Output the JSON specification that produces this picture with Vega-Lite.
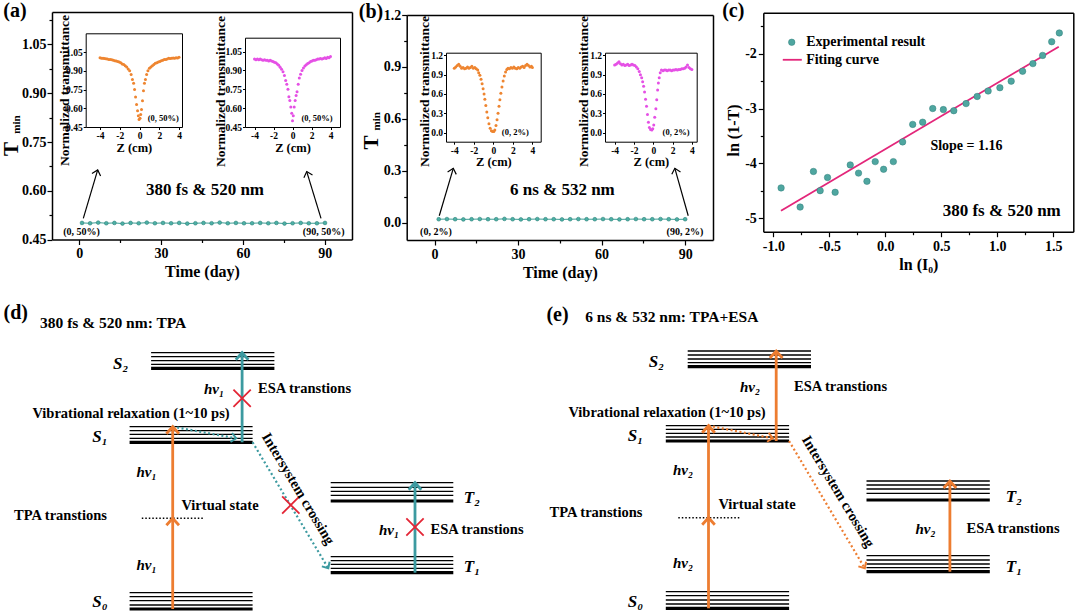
{
"$schema":"https://vega.github.io/schema/vega-lite/v6.json",
"width":1080,"height":612,"autosize":{"type":"none"},"padding":0,"background":"white",
"config":{
 "view":{"stroke":null},
 "font":"Liberation Serif",
 "axis":{"grid":false,"domainColor":"black","tickColor":"black","labelColor":"black","titleColor":"black","labelFont":"Liberation Serif","titleFont":"Liberation Serif","labelFontWeight":"bold","titleFontWeight":"bold","labelFlush":false,"labelOverlap":false,"domainWidth":1.5,"tickWidth":1.2},
 "text":{"font":"Liberation Serif","fontWeight":"bold","fill":"black","align":"center","baseline":"middle"}
},
"datasets":{
 "tA":[{"day":1,"T":0.501},{"day":3.97,"T":0.5},{"day":6.94,"T":0.502},{"day":9.91,"T":0.5},{"day":12.88,"T":0.501},{"day":15.85,"T":0.499},{"day":18.82,"T":0.501},{"day":21.79,"T":0.5},{"day":24.76,"T":0.502},{"day":27.73,"T":0.5},{"day":30.7,"T":0.501},{"day":33.67,"T":0.5},{"day":36.64,"T":0.501},{"day":39.61,"T":0.499},{"day":42.58,"T":0.5},{"day":45.55,"T":0.501},{"day":48.52,"T":0.5},{"day":51.49,"T":0.502},{"day":54.46,"T":0.5},{"day":57.43,"T":0.501},{"day":60.4,"T":0.5},{"day":63.37,"T":0.5},{"day":66.34,"T":0.501},{"day":69.31,"T":0.5},{"day":72.28,"T":0.501},{"day":75.25,"T":0.499},{"day":78.22,"T":0.5},{"day":81.19,"T":0.501},{"day":84.16,"T":0.5},{"day":87.13,"T":0.5},{"day":90.1,"T":0.501}],
 "tB":[{"day":1.5,"T":0.02},{"day":4.45,"T":0.021},{"day":7.4,"T":0.02},{"day":10.35,"T":0.019},{"day":13.3,"T":0.02},{"day":16.25,"T":0.021},{"day":19.2,"T":0.02},{"day":22.15,"T":0.02},{"day":25.1,"T":0.022},{"day":28.05,"T":0.02},{"day":31,"T":0.019},{"day":33.95,"T":0.02},{"day":36.9,"T":0.021},{"day":39.85,"T":0.02},{"day":42.8,"T":0.02},{"day":45.75,"T":0.019},{"day":48.7,"T":0.02},{"day":51.65,"T":0.021},{"day":54.6,"T":0.02},{"day":57.55,"T":0.02},{"day":60.5,"T":0.021},{"day":63.45,"T":0.02},{"day":66.4,"T":0.019},{"day":69.35,"T":0.02},{"day":72.3,"T":0.021},{"day":75.25,"T":0.02},{"day":78.2,"T":0.02},{"day":81.15,"T":0.021},{"day":84.1,"T":0.02},{"day":87.05,"T":0.019},{"day":90,"T":0.02}],
 "a1":[{"z":-4.0,"T":1.005},{"z":-3.85,"T":1.0},{"z":-3.7,"T":1.0},{"z":-3.55,"T":0.998},{"z":-3.4,"T":0.997},{"z":-3.25,"T":0.995},{"z":-3.1,"T":0.99},{"z":-2.95,"T":0.99},{"z":-2.8,"T":0.988},{"z":-2.65,"T":0.985},{"z":-2.5,"T":0.98},{"z":-2.35,"T":0.978},{"z":-2.2,"T":0.975},{"z":-2.05,"T":0.97},{"z":-1.9,"T":0.965},{"z":-1.75,"T":0.955},{"z":-1.6,"T":0.95},{"z":-1.45,"T":0.94},{"z":-1.3,"T":0.93},{"z":-1.15,"T":0.915},{"z":-1.0,"T":0.9},{"z":-0.85,"T":0.87},{"z":-0.72,"T":0.83},{"z":-0.6,"T":0.8},{"z":-0.5,"T":0.75},{"z":-0.4,"T":0.69},{"z":-0.3,"T":0.63},{"z":-0.2,"T":0.58},{"z":-0.12,"T":0.54},{"z":-0.05,"T":0.51},{"z":0.05,"T":0.52},{"z":0.12,"T":0.55},{"z":0.2,"T":0.59},{"z":0.3,"T":0.66},{"z":0.4,"T":0.74},{"z":0.5,"T":0.8},{"z":0.6,"T":0.83},{"z":0.72,"T":0.87},{"z":0.85,"T":0.9},{"z":1.0,"T":0.92},{"z":1.15,"T":0.93},{"z":1.3,"T":0.94},{"z":1.45,"T":0.95},{"z":1.6,"T":0.96},{"z":1.75,"T":0.965},{"z":1.9,"T":0.97},{"z":2.05,"T":0.975},{"z":2.2,"T":0.98},{"z":2.35,"T":0.985},{"z":2.5,"T":0.99},{"z":2.65,"T":0.99},{"z":2.8,"T":0.995},{"z":2.95,"T":1.0},{"z":3.1,"T":0.998},{"z":3.25,"T":1.0},{"z":3.4,"T":1.003},{"z":3.55,"T":1.0},{"z":3.7,"T":1.005},{"z":3.85,"T":1.003},{"z":4.0,"T":1.008}],
 "a2":[{"z":-4.0,"T":0.99},{"z":-3.85,"T":0.985},{"z":-3.7,"T":0.99},{"z":-3.55,"T":0.985},{"z":-3.4,"T":0.99},{"z":-3.25,"T":0.985},{"z":-3.1,"T":0.98},{"z":-2.95,"T":0.985},{"z":-2.8,"T":0.98},{"z":-2.65,"T":0.98},{"z":-2.5,"T":0.975},{"z":-2.35,"T":0.98},{"z":-2.2,"T":0.975},{"z":-2.05,"T":0.97},{"z":-1.9,"T":0.965},{"z":-1.75,"T":0.96},{"z":-1.6,"T":0.95},{"z":-1.45,"T":0.94},{"z":-1.3,"T":0.925},{"z":-1.15,"T":0.91},{"z":-1.0,"T":0.89},{"z":-0.85,"T":0.86},{"z":-0.72,"T":0.82},{"z":-0.6,"T":0.79},{"z":-0.48,"T":0.75},{"z":-0.38,"T":0.69},{"z":-0.28,"T":0.66},{"z":-0.18,"T":0.61},{"z":-0.08,"T":0.56},{"z":0.0,"T":0.5},{"z":0.08,"T":0.54},{"z":0.18,"T":0.61},{"z":0.28,"T":0.66},{"z":0.38,"T":0.7},{"z":0.48,"T":0.73},{"z":0.6,"T":0.79},{"z":0.72,"T":0.84},{"z":0.85,"T":0.87},{"z":1.0,"T":0.9},{"z":1.15,"T":0.92},{"z":1.3,"T":0.935},{"z":1.45,"T":0.945},{"z":1.6,"T":0.955},{"z":1.75,"T":0.96},{"z":1.9,"T":0.97},{"z":2.05,"T":0.975},{"z":2.2,"T":0.98},{"z":2.35,"T":0.98},{"z":2.5,"T":0.985},{"z":2.65,"T":0.99},{"z":2.8,"T":0.99},{"z":2.95,"T":0.995},{"z":3.1,"T":0.99},{"z":3.25,"T":0.995},{"z":3.4,"T":1.0},{"z":3.55,"T":0.995},{"z":3.7,"T":1.005},{"z":3.85,"T":1.0},{"z":4.0,"T":1.01}],
 "b1":[{"z":-4.0,"T":1.0},{"z":-3.85,"T":1.02},{"z":-3.7,"T":1.04},{"z":-3.55,"T":1.06},{"z":-3.4,"T":1.03},{"z":-3.25,"T":1.0},{"z":-3.1,"T":1.01},{"z":-2.95,"T":0.99},{"z":-2.8,"T":1.0},{"z":-2.65,"T":1.02},{"z":-2.5,"T":1.0},{"z":-2.35,"T":1.01},{"z":-2.2,"T":1.03},{"z":-2.05,"T":1.0},{"z":-1.9,"T":1.01},{"z":-1.75,"T":0.99},{"z":-1.6,"T":0.97},{"z":-1.5,"T":0.93},{"z":-1.38,"T":0.89},{"z":-1.26,"T":0.83},{"z":-1.15,"T":0.76},{"z":-1.05,"T":0.68},{"z":-0.95,"T":0.6},{"z":-0.87,"T":0.52},{"z":-0.77,"T":0.42},{"z":-0.67,"T":0.32},{"z":-0.57,"T":0.23},{"z":-0.45,"T":0.14},{"z":-0.33,"T":0.07},{"z":-0.2,"T":0.03},{"z":-0.08,"T":0.02},{"z":0.05,"T":0.02},{"z":0.15,"T":0.04},{"z":0.27,"T":0.11},{"z":0.38,"T":0.2},{"z":0.48,"T":0.3},{"z":0.58,"T":0.41},{"z":0.67,"T":0.51},{"z":0.77,"T":0.61},{"z":0.88,"T":0.71},{"z":1.0,"T":0.8},{"z":1.12,"T":0.88},{"z":1.25,"T":0.94},{"z":1.38,"T":0.98},{"z":1.5,"T":1.0},{"z":1.65,"T":0.99},{"z":1.8,"T":1.01},{"z":1.95,"T":1.0},{"z":2.1,"T":1.02},{"z":2.25,"T":1.0},{"z":2.4,"T":0.99},{"z":2.55,"T":1.01},{"z":2.7,"T":1.0},{"z":2.85,"T":1.02},{"z":3.0,"T":1.03},{"z":3.15,"T":1.01},{"z":3.3,"T":1.04},{"z":3.45,"T":1.06},{"z":3.6,"T":1.04},{"z":3.75,"T":1.02},{"z":3.9,"T":1.03},{"z":4.0,"T":1.01}],
 "b2":[{"z":-4.0,"T":1.05},{"z":-3.85,"T":1.06},{"z":-3.7,"T":1.08},{"z":-3.55,"T":1.1},{"z":-3.4,"T":1.07},{"z":-3.25,"T":1.05},{"z":-3.1,"T":1.06},{"z":-2.95,"T":1.04},{"z":-2.8,"T":1.05},{"z":-2.65,"T":1.06},{"z":-2.5,"T":1.04},{"z":-2.35,"T":1.05},{"z":-2.2,"T":1.06},{"z":-2.05,"T":1.05},{"z":-1.9,"T":1.04},{"z":-1.75,"T":1.02},{"z":-1.6,"T":0.99},{"z":-1.45,"T":0.95},{"z":-1.33,"T":0.9},{"z":-1.2,"T":0.85},{"z":-1.1,"T":0.79},{"z":-1.0,"T":0.72},{"z":-0.9,"T":0.63},{"z":-0.8,"T":0.52},{"z":-0.7,"T":0.41},{"z":-0.6,"T":0.28},{"z":-0.5,"T":0.16},{"z":-0.4,"T":0.08},{"z":-0.28,"T":0.05},{"z":-0.15,"T":0.04},{"z":-0.05,"T":0.06},{"z":0.05,"T":0.12},{"z":0.15,"T":0.24},{"z":0.27,"T":0.37},{"z":0.36,"T":0.51},{"z":0.45,"T":0.66},{"z":0.53,"T":0.77},{"z":0.62,"T":0.85},{"z":0.72,"T":0.93},{"z":0.85,"T":0.97},{"z":1.0,"T":0.96},{"z":1.15,"T":0.97},{"z":1.3,"T":0.97},{"z":1.45,"T":0.96},{"z":1.6,"T":0.97},{"z":1.75,"T":0.97},{"z":1.9,"T":0.96},{"z":2.05,"T":0.97},{"z":2.2,"T":0.97},{"z":2.35,"T":0.98},{"z":2.5,"T":0.97},{"z":2.65,"T":0.98},{"z":2.8,"T":0.98},{"z":2.95,"T":0.99},{"z":3.1,"T":0.99},{"z":3.25,"T":1.0},{"z":3.4,"T":1.02},{"z":3.55,"T":1.05},{"z":3.7,"T":1.01},{"z":3.85,"T":0.99},{"z":4.0,"T":0.98}],
 "cpts":[{"lnI":-0.931,"lnT":-4.45},{"lnI":-0.761,"lnT":-4.8},{"lnI":-0.642,"lnT":-4.15},{"lnI":-0.582,"lnT":-4.5},{"lnI":-0.516,"lnT":-4.26},{"lnI":-0.448,"lnT":-4.53},{"lnI":-0.313,"lnT":-4.03},{"lnI":-0.239,"lnT":-4.18},{"lnI":-0.164,"lnT":-4.33},{"lnI":-0.09,"lnT":-3.97},{"lnI":-0.015,"lnT":-4.11},{"lnI":0.072,"lnT":-3.97},{"lnI":0.155,"lnT":-3.61},{"lnI":0.245,"lnT":-3.29},{"lnI":0.334,"lnT":-3.25},{"lnI":0.424,"lnT":-3.0},{"lnI":0.519,"lnT":-3.02},{"lnI":0.612,"lnT":-3.04},{"lnI":0.722,"lnT":-2.91},{"lnI":0.821,"lnT":-2.78},{"lnI":0.919,"lnT":-2.68},{"lnI":1.024,"lnT":-2.62},{"lnI":1.125,"lnT":-2.5},{"lnI":1.227,"lnT":-2.32},{"lnI":1.319,"lnT":-2.18},{"lnI":1.406,"lnT":-2.03},{"lnI":1.487,"lnT":-1.78},{"lnI":1.555,"lnT":-1.62}],
 "cfit":[{"lnI":-0.932,"lnT":-4.866},{"lnI":1.55,"lnT":-1.871}],
 "levels":[
  {"dg":"d","lv":"S2","x1":15.11,"x2":27.44,"y":25.93,"w":"thin"},{"dg":"d","lv":"S2","x1":15.11,"x2":27.44,"y":25.53,"w":"thin"},{"dg":"d","lv":"S2","x1":15.11,"x2":27.44,"y":25.13,"w":"thin"},{"dg":"d","lv":"S2","x1":15.11,"x2":27.44,"y":24.77,"w":"thin"},{"dg":"d","lv":"S2","x1":15.11,"x2":27.44,"y":24.37,"w":"base"},
  {"dg":"d","lv":"S1","x1":12.96,"x2":25.26,"y":18.53,"w":"thin"},{"dg":"d","lv":"S1","x1":12.96,"x2":25.26,"y":18.13,"w":"thin"},{"dg":"d","lv":"S1","x1":12.96,"x2":25.26,"y":17.77,"w":"thin"},{"dg":"d","lv":"S1","x1":12.96,"x2":25.26,"y":17.37,"w":"thin"},{"dg":"d","lv":"S1","x1":12.96,"x2":25.26,"y":16.97,"w":"base"},
  {"dg":"d","lv":"S0","x1":12.96,"x2":25.26,"y":1.93,"w":"thin"},{"dg":"d","lv":"S0","x1":12.96,"x2":25.26,"y":1.53,"w":"thin"},{"dg":"d","lv":"S0","x1":12.96,"x2":25.26,"y":1.13,"w":"thin"},{"dg":"d","lv":"S0","x1":12.96,"x2":25.26,"y":0.7,"w":"thin"},{"dg":"d","lv":"S0","x1":12.96,"x2":25.26,"y":0.3,"w":"base"},
  {"dg":"d","lv":"T2","x1":33.07,"x2":45.33,"y":12.93,"w":"thin"},{"dg":"d","lv":"T2","x1":33.07,"x2":45.33,"y":12.47,"w":"thin"},{"dg":"d","lv":"T2","x1":33.07,"x2":45.33,"y":12.07,"w":"thin"},{"dg":"d","lv":"T2","x1":33.07,"x2":45.33,"y":11.67,"w":"thin"},{"dg":"d","lv":"T2","x1":33.07,"x2":45.33,"y":11.1,"w":"base"},
  {"dg":"d","lv":"T1","x1":33.07,"x2":45.33,"y":5.53,"w":"thin"},{"dg":"d","lv":"T1","x1":33.07,"x2":45.33,"y":5.13,"w":"thin"},{"dg":"d","lv":"T1","x1":33.07,"x2":45.33,"y":4.77,"w":"thin"},{"dg":"d","lv":"T1","x1":33.07,"x2":45.33,"y":4.37,"w":"thin"},{"dg":"d","lv":"T1","x1":33.07,"x2":45.33,"y":3.93,"w":"base"},
  {"dg":"e","lv":"S2","x1":68.77,"x2":81.1,"y":26.1,"w":"thin"},{"dg":"e","lv":"S2","x1":68.77,"x2":81.1,"y":25.7,"w":"thin"},{"dg":"e","lv":"S2","x1":68.77,"x2":81.1,"y":25.3,"w":"thin"},{"dg":"e","lv":"S2","x1":68.77,"x2":81.1,"y":24.93,"w":"thin"},{"dg":"e","lv":"S2","x1":68.77,"x2":81.1,"y":24.53,"w":"base"},
  {"dg":"e","lv":"S1","x1":66.58,"x2":78.91,"y":18.63,"w":"thin"},{"dg":"e","lv":"S1","x1":66.58,"x2":78.91,"y":18.27,"w":"thin"},{"dg":"e","lv":"S1","x1":66.58,"x2":78.91,"y":17.87,"w":"thin"},{"dg":"e","lv":"S1","x1":66.58,"x2":78.91,"y":17.5,"w":"thin"},{"dg":"e","lv":"S1","x1":66.58,"x2":78.91,"y":17.1,"w":"base"},
  {"dg":"e","lv":"S0","x1":66.58,"x2":78.91,"y":2.03,"w":"thin"},{"dg":"e","lv":"S0","x1":66.58,"x2":78.91,"y":1.63,"w":"thin"},{"dg":"e","lv":"S0","x1":66.58,"x2":78.91,"y":1.2,"w":"thin"},{"dg":"e","lv":"S0","x1":66.58,"x2":78.91,"y":0.8,"w":"thin"},{"dg":"e","lv":"S0","x1":66.58,"x2":78.91,"y":0.37,"w":"base"},
  {"dg":"e","lv":"T2","x1":86.65,"x2":98.98,"y":13.1,"w":"thin"},{"dg":"e","lv":"T2","x1":86.65,"x2":98.98,"y":12.7,"w":"thin"},{"dg":"e","lv":"T2","x1":86.65,"x2":98.98,"y":12.3,"w":"thin"},{"dg":"e","lv":"T2","x1":86.65,"x2":98.98,"y":11.87,"w":"thin"},{"dg":"e","lv":"T2","x1":86.65,"x2":98.98,"y":11.2,"w":"base"},
  {"dg":"e","lv":"T1","x1":86.65,"x2":98.98,"y":5.63,"w":"thin"},{"dg":"e","lv":"T1","x1":86.65,"x2":98.98,"y":5.2,"w":"thin"},{"dg":"e","lv":"T1","x1":86.65,"x2":98.98,"y":4.8,"w":"thin"},{"dg":"e","lv":"T1","x1":86.65,"x2":98.98,"y":4.43,"w":"thin"},{"dg":"e","lv":"T1","x1":86.65,"x2":98.98,"y":4.03,"w":"base"}
 ],
 "arrows":[
  {"dg":"d","beam":"tpa","ls":"solid","x1":17.27,"y1":0.3,"x2":17.27,"y2":9.37,"dir":0},
  {"dg":"d","beam":"tpa","ls":"solid","x1":17.27,"y1":9.37,"x2":17.27,"y2":18.53,"dir":0},
  {"dg":"d","beam":"esa","ls":"solid","x1":24.21,"y1":16.97,"x2":24.21,"y2":25.93,"dir":0},
  {"dg":"d","beam":"esa","ls":"solid","x1":41.5,"y1":3.93,"x2":41.5,"y2":12.93,"dir":0},
  {"dg":"d","beam":"vr","ls":"dotted","x1":17.27,"y1":18.53,"x2":23.62,"y2":17.37,"dir":100},
  {"dg":"d","beam":"isc","ls":"dotted","x1":25.26,"y1":16.97,"x2":32.83,"y2":4.37,"dir":149},
  {"dg":"e","beam":"tpa","ls":"solid","x1":70.85,"y1":0.37,"x2":70.85,"y2":9.43,"dir":0},
  {"dg":"e","beam":"tpa","ls":"solid","x1":70.85,"y1":9.43,"x2":70.85,"y2":18.63,"dir":0},
  {"dg":"e","beam":"esa","ls":"solid","x1":77.62,"y1":17.1,"x2":77.62,"y2":26.1,"dir":0},
  {"dg":"e","beam":"esa","ls":"solid","x1":94.99,"y1":4.03,"x2":94.99,"y2":13.1,"dir":0},
  {"dg":"e","beam":"vr","ls":"dotted","x1":70.85,"y1":18.63,"x2":77.28,"y2":17.37,"dir":101},
  {"dg":"e","beam":"isc","ls":"dotted","x1":78.91,"y1":17.1,"x2":86.48,"y2":4.37,"dir":149}
 ]
},
"layer":[
 {"resolve":{"axis":{"x":"independent","y":"independent"}},"layer":[
  {"data":{"name":"tA"},"mark":{"type":"line","color":"#3E9E95","strokeWidth":1},
   "encoding":{"x":{"field":"day","type":"quantitative","scale":{"domain":[-10,100],"range":[52,352],"nice":false,"zero":false},"axis":{"orient":"bottom","offset":-372.5,"values":[0,30,60,90],"format":"d","title":"Time (day)","labelFontSize":14,"titleFontSize":16,"tickSize":5,"labelPadding":2,"titlePadding":3}},
    "y":{"field":"T","type":"quantitative","scale":{"domain":[0.45,1.15],"range":[239.5,12],"nice":false,"zero":false},"axis":{"orient":"left","offset":-52,"values":[0.45,0.6,0.75,0.9,1.05],"format":".2f","title":null,"labelFontSize":14,"tickSize":5,"labelPadding":1}}}},
  {"data":{"name":"tA"},"mark":{"type":"point","filled":true,"size":14,"color":"#4DB0A6","stroke":"#2F837B","strokeWidth":0.6,"opacity":1},
   "encoding":{"x":{"field":"day","type":"quantitative","scale":{"domain":[-10,100],"range":[52,352],"nice":false,"zero":false},"axis":null},
    "y":{"field":"T","type":"quantitative","scale":{"domain":[0.45,1.15],"range":[239.5,12],"nice":false,"zero":false},"axis":null}}},
  {"data":{"values":[{"x1":1.48,"y1":0.515,"x2":6.76,"y2":0.664,"dir":16.6},{"x1":88.64,"y1":0.515,"x2":83.4,"y2":0.659,"dir":-17}]},
   "mark":{"type":"rule","color":"black","strokeWidth":1.2},
   "encoding":{"x":{"field":"x1","type":"quantitative","scale":{"domain":[-10,100],"range":[52,352],"nice":false,"zero":false},"axis":null},
    "y":{"field":"y1","type":"quantitative","scale":{"domain":[0.45,1.15],"range":[239.5,12],"nice":false,"zero":false},"axis":null},
    "x2":{"field":"x2"},"y2":{"field":"y2"}}},
  {"data":{"values":[{"x1":1.48,"y1":0.515,"x2":6.76,"y2":0.664,"dir":16.6},{"x1":88.64,"y1":0.515,"x2":83.4,"y2":0.659,"dir":-17}]},
   "mark":{"type":"point","shape":"M-0.9,1L0,0L0.9,1","filled":false,"size":100,"color":"black","strokeWidth":1.2,"opacity":1},
   "encoding":{"x":{"field":"x2","type":"quantitative","scale":{"domain":[-10,100],"range":[52,352],"nice":false,"zero":false},"axis":null},
    "y":{"field":"y2","type":"quantitative","scale":{"domain":[0.45,1.15],"range":[239.5,12],"nice":false,"zero":false},"axis":null},
    "angle":{"field":"dir","type":"quantitative","scale":null}}},
  {"data":{"values":[{"x":0.82,"y":0.473,"t":"(0, 50%)"},{"x":89.6,"y":0.473,"t":"(90, 50%)"}]},"mark":{"type":"text","fontSize":10},
   "encoding":{"x":{"field":"x","type":"quantitative","scale":{"domain":[-10,100],"range":[52,352],"nice":false,"zero":false},"axis":null},
    "y":{"field":"y","type":"quantitative","scale":{"domain":[0.45,1.15],"range":[239.5,12],"nice":false,"zero":false},"axis":null},"text":{"field":"t"}}},
  {"data":{"values":[{"x":46.1,"y":0.602,"t":"380 fs & 520 nm"}]},"mark":{"type":"text","fontSize":17},
   "encoding":{"x":{"field":"x","type":"quantitative","scale":{"domain":[-10,100],"range":[52,352],"nice":false,"zero":false},"axis":null},
    "y":{"field":"y","type":"quantitative","scale":{"domain":[0.45,1.15],"range":[239.5,12],"nice":false,"zero":false},"axis":null},"text":{"field":"t"}}}
 ]},
 {"data":{"name":"tA"},"mark":{"type":"point","opacity":0},
  "encoding":{"x":{"field":"day","type":"quantitative","scale":{"domain":[-10,100],"range":[52,352],"nice":false,"zero":false},"axis":{"orient":"bottom","offset":-372.5,"values":[15,45,75],"labels":false,"domain":false,"tickSize":3,"title":null}},
   "y":{"field":"T","type":"quantitative","scale":{"domain":[0.45,1.15],"range":[239.5,12],"nice":false,"zero":false},"axis":{"orient":"left","offset":-52,"values":[0.525,0.675,0.825,0.975,1.125],"labels":false,"domain":false,"tickSize":3,"title":null}}}},
 {"data":{"name":"tA"},"mark":{"type":"point","opacity":0},
  "encoding":{"x":{"field":"day","type":"quantitative","scale":{"domain":[-10,100],"range":[52,352],"nice":false,"zero":false},"axis":{"orient":"top","offset":-12,"ticks":false,"labels":false,"title":null}},
   "y":{"field":"T","type":"quantitative","scale":{"domain":[0.45,1.15],"range":[239.5,12],"nice":false,"zero":false},"axis":{"orient":"right","offset":-728,"ticks":false,"labels":false,"title":null}}}},
 {"resolve":{"axis":{"x":"independent","y":"independent"}},"layer":[
  {"data":{"name":"a1"},"mark":{"type":"point","filled":true,"size":9,"color":"#EE8530","opacity":1},
   "encoding":{"x":{"field":"z","type":"quantitative","scale":{"domain":[-5.45,4.3],"range":[85.7,182],"nice":false,"zero":false},"axis":{"orient":"bottom","offset":-485,"values":[-4,-2,0,2,4],"format":"d","labelExpr":"replace(datum.label,'−','-')","title":"Z (cm)","labelFontSize":9.5,"titleFontSize":12.5,"tickSize":2.5,"labelPadding":1,"titlePadding":1,"domainWidth":1,"tickWidth":1}},
    "y":{"field":"T","type":"quantitative","scale":{"domain":[0.45,1.2],"range":[127,33.3],"nice":false,"zero":false},"axis":{"orient":"left","offset":-85.7,"values":[0.45,0.6,0.75,0.9,1.05],"format":".2f","title":"Normalized transmittance","titleFontSize":13.5,"labelFontSize":9.5,"tickSize":2.5,"labelPadding":1,"titleX":-14.5,"titleY":90,"domainWidth":1,"tickWidth":1}}}},
  {"data":{"values":[{"x":2.41,"y":0.524,"t":"(0, 50%)"}]},"mark":{"type":"text","fontSize":8.5},
   "encoding":{"x":{"field":"x","type":"quantitative","scale":{"domain":[-5.45,4.3],"range":[85.7,182],"nice":false,"zero":false},"axis":null},
    "y":{"field":"y","type":"quantitative","scale":{"domain":[0.45,1.2],"range":[127,33.3],"nice":false,"zero":false},"axis":null},"text":{"field":"t"}}}
 ]},
 {"data":{"name":"a1"},"mark":{"type":"point","opacity":0},
  "encoding":{"x":{"field":"z","type":"quantitative","scale":{"domain":[-5.45,4.3],"range":[85.7,182],"nice":false,"zero":false},"axis":{"orient":"top","offset":-33.3,"ticks":false,"labels":false,"title":null,"domainWidth":1}},
   "y":{"field":"T","type":"quantitative","scale":{"domain":[0.45,1.2],"range":[127,33.3],"nice":false,"zero":false},"axis":{"orient":"right","offset":-898,"ticks":false,"labels":false,"title":null,"domainWidth":1}}}},
 {"resolve":{"axis":{"x":"independent","y":"independent"}},"layer":[
  {"data":{"name":"a2"},"mark":{"type":"point","filled":true,"size":9,"color":"#E550E5","opacity":1},
   "encoding":{"x":{"field":"z","type":"quantitative","scale":{"domain":[-5,5],"range":[245,340],"nice":false,"zero":false},"axis":{"orient":"bottom","offset":-485,"values":[-4,-2,0,2,4],"format":"d","labelExpr":"replace(datum.label,'−','-')","title":"Z (cm)","labelFontSize":9.5,"titleFontSize":12.5,"tickSize":2.5,"labelPadding":1,"titlePadding":1,"domainWidth":1,"tickWidth":1}},
    "y":{"field":"T","type":"quantitative","scale":{"domain":[0.45,1.16],"range":[127,37.7],"nice":false,"zero":false},"axis":{"orient":"left","offset":-245,"values":[0.45,0.6,0.75,0.9,1.05],"format":".2f","title":"Normalized transmittance","titleFontSize":13.5,"labelFontSize":9.5,"tickSize":2.5,"labelPadding":1,"titleX":-18,"titleY":91,"domainWidth":1,"tickWidth":1}}}},
  {"data":{"values":[{"x":2.58,"y":0.524,"t":"(0, 50%)"}]},"mark":{"type":"text","fontSize":8.5},
   "encoding":{"x":{"field":"x","type":"quantitative","scale":{"domain":[-5,5],"range":[245,340],"nice":false,"zero":false},"axis":null},
    "y":{"field":"y","type":"quantitative","scale":{"domain":[0.45,1.16],"range":[127,37.7],"nice":false,"zero":false},"axis":null},"text":{"field":"t"}}}
 ]},
 {"data":{"name":"a2"},"mark":{"type":"point","opacity":0},
  "encoding":{"x":{"field":"z","type":"quantitative","scale":{"domain":[-5,5],"range":[245,340],"nice":false,"zero":false},"axis":{"orient":"top","offset":-37.7,"ticks":false,"labels":false,"title":null,"domainWidth":1}},
   "y":{"field":"T","type":"quantitative","scale":{"domain":[0.45,1.16],"range":[127,37.7],"nice":false,"zero":false},"axis":{"orient":"right","offset":-740,"ticks":false,"labels":false,"title":null,"domainWidth":1}}}},
 {"resolve":{"axis":{"x":"independent","y":"independent"}},"layer":[
  {"data":{"name":"tB"},"mark":{"type":"line","color":"#3E9E95","strokeWidth":1},
   "encoding":{"x":{"field":"day","type":"quantitative","scale":{"domain":[-10,100],"range":[406.7,713],"nice":false,"zero":false},"axis":{"orient":"bottom","offset":-372,"values":[0,30,60,90],"format":"d","title":"Time (day)","labelFontSize":14,"titleFontSize":16,"tickSize":5,"labelPadding":2,"titlePadding":3}},
    "y":{"field":"T","type":"quantitative","scale":{"domain":[-0.1,1.2],"range":[240,15],"nice":false,"zero":false},"axis":{"orient":"left","offset":-406.7,"values":[0,0.3,0.6,0.9,1.2],"format":".1f","title":null,"labelFontSize":14,"tickSize":5,"labelPadding":1}}}},
  {"data":{"name":"tB"},"mark":{"type":"point","filled":true,"size":14,"color":"#4DB0A6","stroke":"#2F837B","strokeWidth":0.6,"opacity":1},
   "encoding":{"x":{"field":"day","type":"quantitative","scale":{"domain":[-10,100],"range":[406.7,713],"nice":false,"zero":false},"axis":null},
    "y":{"field":"T","type":"quantitative","scale":{"domain":[-0.1,1.2],"range":[240,15],"nice":false,"zero":false},"axis":null}}},
  {"data":{"values":[{"x1":1.7,"y1":0.04,"x2":6.73,"y2":0.314,"dir":15.6},{"x1":91.1,"y1":0.04,"x2":86.3,"y2":0.314,"dir":-15}]},
   "mark":{"type":"rule","color":"black","strokeWidth":1.2},
   "encoding":{"x":{"field":"x1","type":"quantitative","scale":{"domain":[-10,100],"range":[406.7,713],"nice":false,"zero":false},"axis":null},
    "y":{"field":"y1","type":"quantitative","scale":{"domain":[-0.1,1.2],"range":[240,15],"nice":false,"zero":false},"axis":null},
    "x2":{"field":"x2"},"y2":{"field":"y2"}}},
  {"data":{"values":[{"x1":1.7,"y1":0.04,"x2":6.73,"y2":0.314,"dir":15.6},{"x1":91.1,"y1":0.04,"x2":86.3,"y2":0.314,"dir":-15}]},
   "mark":{"type":"point","shape":"M-0.9,1L0,0L0.9,1","filled":false,"size":100,"color":"black","strokeWidth":1.2,"opacity":1},
   "encoding":{"x":{"field":"x2","type":"quantitative","scale":{"domain":[-10,100],"range":[406.7,713],"nice":false,"zero":false},"axis":null},
    "y":{"field":"y2","type":"quantitative","scale":{"domain":[-0.1,1.2],"range":[240,15],"nice":false,"zero":false},"axis":null},
    "angle":{"field":"dir","type":"quantitative","scale":null}}},
  {"data":{"values":[{"x":0.5,"y":-0.054,"t":"(0, 2%)"},{"x":89.9,"y":-0.054,"t":"(90, 2%)"}]},"mark":{"type":"text","fontSize":10},
   "encoding":{"x":{"field":"x","type":"quantitative","scale":{"domain":[-10,100],"range":[406.7,713],"nice":false,"zero":false},"axis":null},
    "y":{"field":"y","type":"quantitative","scale":{"domain":[-0.1,1.2],"range":[240,15],"nice":false,"zero":false},"axis":null},"text":{"field":"t"}}},
  {"data":{"values":[{"x":45.9,"y":0.189,"t":"6 ns & 532 nm"}]},"mark":{"type":"text","fontSize":17},
   "encoding":{"x":{"field":"x","type":"quantitative","scale":{"domain":[-10,100],"range":[406.7,713],"nice":false,"zero":false},"axis":null},
    "y":{"field":"y","type":"quantitative","scale":{"domain":[-0.1,1.2],"range":[240,15],"nice":false,"zero":false},"axis":null},"text":{"field":"t"}}}
 ]},
 {"data":{"name":"tB"},"mark":{"type":"point","opacity":0},
  "encoding":{"x":{"field":"day","type":"quantitative","scale":{"domain":[-10,100],"range":[406.7,713],"nice":false,"zero":false},"axis":{"orient":"bottom","offset":-372,"values":[15,45,75],"labels":false,"domain":false,"tickSize":3,"title":null}},
   "y":{"field":"T","type":"quantitative","scale":{"domain":[-0.1,1.2],"range":[240,15],"nice":false,"zero":false},"axis":{"orient":"left","offset":-406.7,"values":[0.15,0.45,0.75,1.05],"labels":false,"domain":false,"tickSize":3,"title":null}}}},
 {"data":{"name":"tB"},"mark":{"type":"point","opacity":0},
  "encoding":{"x":{"field":"day","type":"quantitative","scale":{"domain":[-10,100],"range":[406.7,713],"nice":false,"zero":false},"axis":{"orient":"top","offset":-15,"ticks":false,"labels":false,"title":null}},
   "y":{"field":"T","type":"quantitative","scale":{"domain":[-0.1,1.2],"range":[240,15],"nice":false,"zero":false},"axis":{"orient":"right","offset":-367,"ticks":false,"labels":false,"title":null}}}},
 {"resolve":{"axis":{"x":"independent","y":"independent"}},"layer":[
  {"data":{"name":"b1"},"mark":{"type":"point","filled":true,"size":9,"color":"#EE8530","opacity":1},
   "encoding":{"x":{"field":"z","type":"quantitative","scale":{"domain":[-4.85,4.85],"range":[446,540.7],"nice":false,"zero":false},"axis":{"orient":"bottom","offset":-470.3,"values":[-4,-2,0,2,4],"format":"d","labelExpr":"replace(datum.label,'−','-')","title":"Z (cm)","labelFontSize":9.5,"titleFontSize":12.5,"tickSize":2.5,"labelPadding":1,"titlePadding":1,"domainWidth":1,"tickWidth":1}},
    "y":{"field":"T","type":"quantitative","scale":{"domain":[-0.14,1.24],"range":[141.7,52.7],"nice":false,"zero":false},"axis":{"orient":"left","offset":-446,"values":[0,0.3,0.6,0.9,1.2],"format":".1f","title":"Normalized transmittance","titleFontSize":13.5,"labelFontSize":9.5,"tickSize":2.5,"labelPadding":1,"titleX":-15,"titleY":91,"domainWidth":1,"tickWidth":1}}}},
  {"data":{"values":[{"x":2.25,"y":0.015,"t":"(0, 2%)"}]},"mark":{"type":"text","fontSize":8.5},
   "encoding":{"x":{"field":"x","type":"quantitative","scale":{"domain":[-4.85,4.85],"range":[446,540.7],"nice":false,"zero":false},"axis":null},
    "y":{"field":"y","type":"quantitative","scale":{"domain":[-0.14,1.24],"range":[141.7,52.7],"nice":false,"zero":false},"axis":null},"text":{"field":"t"}}}
 ]},
 {"data":{"name":"b1"},"mark":{"type":"point","opacity":0},
  "encoding":{"x":{"field":"z","type":"quantitative","scale":{"domain":[-4.85,4.85],"range":[446,540.7],"nice":false,"zero":false},"axis":{"orient":"top","offset":-52.7,"ticks":false,"labels":false,"title":null,"domainWidth":1}},
   "y":{"field":"T","type":"quantitative","scale":{"domain":[-0.14,1.24],"range":[141.7,52.7],"nice":false,"zero":false},"axis":{"orient":"right","offset":-539.3,"ticks":false,"labels":false,"title":null,"domainWidth":1}}}},
 {"resolve":{"axis":{"x":"independent","y":"independent"}},"layer":[
  {"data":{"name":"b2"},"mark":{"type":"point","filled":true,"size":9,"color":"#E550E5","opacity":1},
   "encoding":{"x":{"field":"z","type":"quantitative","scale":{"domain":[-5,4.5],"range":[605,696.7],"nice":false,"zero":false},"axis":{"orient":"bottom","offset":-470.3,"values":[-4,-2,0,2,4],"format":"d","labelExpr":"replace(datum.label,'−','-')","title":"Z (cm)","labelFontSize":9.5,"titleFontSize":12.5,"tickSize":2.5,"labelPadding":1,"titlePadding":1,"domainWidth":1,"tickWidth":1}},
    "y":{"field":"T","type":"quantitative","scale":{"domain":[-0.14,1.24],"range":[141.7,52.7],"nice":false,"zero":false},"axis":{"orient":"left","offset":-605,"values":[0,0.3,0.6,0.9,1.2],"format":".1f","title":"Normalized transmittance","titleFontSize":13.5,"labelFontSize":9.5,"tickSize":2.5,"labelPadding":1,"titleX":-15,"titleY":91,"domainWidth":1,"tickWidth":1}}}},
  {"data":{"values":[{"x":2.36,"y":0.015,"t":"(0, 2%)"}]},"mark":{"type":"text","fontSize":8.5},
   "encoding":{"x":{"field":"x","type":"quantitative","scale":{"domain":[-5,4.5],"range":[605,696.7],"nice":false,"zero":false},"axis":null},
    "y":{"field":"y","type":"quantitative","scale":{"domain":[-0.14,1.24],"range":[141.7,52.7],"nice":false,"zero":false},"axis":null},"text":{"field":"t"}}}
 ]},
 {"data":{"name":"b2"},"mark":{"type":"point","opacity":0},
  "encoding":{"x":{"field":"z","type":"quantitative","scale":{"domain":[-5,4.5],"range":[605,696.7],"nice":false,"zero":false},"axis":{"orient":"top","offset":-52.7,"ticks":false,"labels":false,"title":null,"domainWidth":1}},
   "y":{"field":"T","type":"quantitative","scale":{"domain":[-0.14,1.24],"range":[141.7,52.7],"nice":false,"zero":false},"axis":{"orient":"right","offset":-383.3,"ticks":false,"labels":false,"title":null,"domainWidth":1}}}},
 {"resolve":{"axis":{"x":"independent","y":"independent"}},"layer":[
  {"data":{"name":"cfit"},"mark":{"type":"line","color":"#E3267A","strokeWidth":1.8},
   "encoding":{"x":{"field":"lnI","type":"quantitative","scale":{"domain":[-1.09,1.68],"range":[763.3,1073.3],"nice":false,"zero":false},"axis":{"orient":"bottom","offset":-380.3,"values":[-1,-0.5,0,0.5,1,1.5],"format":".1f","labelExpr":"replace(datum.label,'−','-')","title":"ln (I₀)","labelFontSize":14,"titleFontSize":16,"tickSize":5,"labelPadding":3,"titlePadding":3}},
    "y":{"field":"lnT","type":"quantitative","scale":{"domain":[-5.25,-1.25],"range":[231.7,12.7],"nice":false,"zero":false},"axis":{"orient":"left","offset":-763.3,"values":[-5,-4,-3,-2],"format":"d","labelExpr":"replace(datum.label,'−','-')","title":"ln (1-T)","labelFontSize":14,"titleFontSize":16,"tickSize":5,"labelPadding":2,"titleX":-22,"titleY":130}}}},
  {"data":{"name":"cpts"},"mark":{"type":"circle","size":42,"color":"#4FA6A0","stroke":"#2E7F7A","strokeWidth":0.5,"opacity":1},
   "encoding":{"x":{"field":"lnI","type":"quantitative","scale":{"domain":[-1.09,1.68],"range":[763.3,1073.3],"nice":false,"zero":false},"axis":null},
    "y":{"field":"lnT","type":"quantitative","scale":{"domain":[-5.25,-1.25],"range":[231.7,12.7],"nice":false,"zero":false},"axis":null}}},
  {"data":{"values":[{"x":-0.836,"y":-1.79}]},"mark":{"type":"circle","size":42,"color":"#4FA6A0","stroke":"#2E7F7A","strokeWidth":0.5,"opacity":1},
   "encoding":{"x":{"field":"x","type":"quantitative","scale":{"domain":[-1.09,1.68],"range":[763.3,1073.3],"nice":false,"zero":false},"axis":null},
    "y":{"field":"y","type":"quantitative","scale":{"domain":[-5.25,-1.25],"range":[231.7,12.7],"nice":false,"zero":false},"axis":null}}},
  {"data":{"values":[{"x":-0.916,"x2":-0.746,"y":-2.11}]},"mark":{"type":"rule","color":"#E3267A","strokeWidth":1.8},
   "encoding":{"x":{"field":"x","type":"quantitative","scale":{"domain":[-1.09,1.68],"range":[763.3,1073.3],"nice":false,"zero":false},"axis":null},"x2":{"field":"x2"},
    "y":{"field":"y","type":"quantitative","scale":{"domain":[-5.25,-1.25],"range":[231.7,12.7],"nice":false,"zero":false},"axis":null}}},
  {"data":{"values":[{"x":-0.707,"y":-1.79,"t":"Experimental result"},{"x":-0.707,"y":-2.11,"t":"Fiting curve"},{"x":0.403,"y":-3.68,"t":"Slope = 1.16"}]},"mark":{"type":"text","fontSize":14,"align":"left"},
   "encoding":{"x":{"field":"x","type":"quantitative","scale":{"domain":[-1.09,1.68],"range":[763.3,1073.3],"nice":false,"zero":false},"axis":null},
    "y":{"field":"y","type":"quantitative","scale":{"domain":[-5.25,-1.25],"range":[231.7,12.7],"nice":false,"zero":false},"axis":null},"text":{"field":"t"}}},
  {"data":{"values":[{"x":0.513,"y":-4.866,"t":"380 fs & 520 nm"}]},"mark":{"type":"text","fontSize":17,"align":"left"},
   "encoding":{"x":{"field":"x","type":"quantitative","scale":{"domain":[-1.09,1.68],"range":[763.3,1073.3],"nice":false,"zero":false},"axis":null},
    "y":{"field":"y","type":"quantitative","scale":{"domain":[-5.25,-1.25],"range":[231.7,12.7],"nice":false,"zero":false},"axis":null},"text":{"field":"t"}}}
 ]},
 {"data":{"name":"cpts"},"mark":{"type":"point","opacity":0},
  "encoding":{"x":{"field":"lnI","type":"quantitative","scale":{"domain":[-1.09,1.68],"range":[763.3,1073.3],"nice":false,"zero":false},"axis":{"orient":"bottom","offset":-380.3,"values":[-0.75,-0.25,0.25,0.75,1.25],"labels":false,"domain":false,"tickSize":3,"title":null}},
   "y":{"field":"lnT","type":"quantitative","scale":{"domain":[-5.25,-1.25],"range":[231.7,12.7],"nice":false,"zero":false},"axis":{"orient":"left","offset":-763.3,"values":[-4.5,-3.5,-2.5,-1.5],"labels":false,"domain":false,"tickSize":3,"title":null}}}},
 {"data":{"name":"cpts"},"mark":{"type":"point","opacity":0},
  "encoding":{"x":{"field":"lnI","type":"quantitative","scale":{"domain":[-1.09,1.68],"range":[763.3,1073.3],"nice":false,"zero":false},"axis":{"orient":"top","offset":-12.7,"ticks":false,"labels":false,"title":null}},
   "y":{"field":"lnT","type":"quantitative","scale":{"domain":[-5.25,-1.25],"range":[231.7,12.7],"nice":false,"zero":false},"axis":{"orient":"right","offset":-6.7,"ticks":false,"labels":false,"title":null}}}},
 {"layer":[
  {"data":{"name":"levels"},"transform":[{"filter":"datum.w=='thin'"}],"mark":{"type":"rule","color":"black","strokeWidth":1.3},
   "encoding":{"x":{"field":"x1","type":"quantitative","scale":{"domain":[0,108],"range":[0,1080],"nice":false,"zero":false},"axis":null},"x2":{"field":"x2"},
    "y":{"field":"y","type":"quantitative","scale":{"domain":[0,61.2],"range":[612,0],"nice":false,"zero":false},"axis":null}}},
  {"data":{"name":"levels"},"transform":[{"filter":"datum.w=='base'"}],"mark":{"type":"rule","color":"black","strokeWidth":3.2},
   "encoding":{"x":{"field":"x1","type":"quantitative","scale":{"domain":[0,108],"range":[0,1080],"nice":false,"zero":false},"axis":null},"x2":{"field":"x2"},
    "y":{"field":"y","type":"quantitative","scale":{"domain":[0,61.2],"range":[612,0],"nice":false,"zero":false},"axis":null}}},
  {"data":{"values":[{"x1":14.18,"x2":20.32,"y":9.37},{"x1":67.83,"x2":73.98,"y":9.43}]},"mark":{"type":"rule","color":"black","strokeWidth":1.6,"strokeDash":[1.5,2]},
   "encoding":{"x":{"field":"x1","type":"quantitative","scale":{"domain":[0,108],"range":[0,1080],"nice":false,"zero":false},"axis":null},"x2":{"field":"x2"},
    "y":{"field":"y","type":"quantitative","scale":{"domain":[0,61.2],"range":[612,0],"nice":false,"zero":false},"axis":null}}},
  {"data":{"name":"arrows"},"transform":[{"filter":"datum.ls=='solid' && (datum.dg=='e' || datum.beam=='tpa')"}],"mark":{"type":"rule","color":"#ED7D31","strokeWidth":2.8},
   "encoding":{"x":{"field":"x1","type":"quantitative","scale":{"domain":[0,108],"range":[0,1080],"nice":false,"zero":false},"axis":null},"x2":{"field":"x2"},
    "y":{"field":"y1","type":"quantitative","scale":{"domain":[0,61.2],"range":[612,0],"nice":false,"zero":false},"axis":null},"y2":{"field":"y2"}}},
  {"data":{"name":"arrows"},"transform":[{"filter":"datum.ls=='solid' && datum.dg=='d' && datum.beam!='tpa'"}],"mark":{"type":"rule","color":"#3C9AA0","strokeWidth":2.8},
   "encoding":{"x":{"field":"x1","type":"quantitative","scale":{"domain":[0,108],"range":[0,1080],"nice":false,"zero":false},"axis":null},"x2":{"field":"x2"},
    "y":{"field":"y1","type":"quantitative","scale":{"domain":[0,61.2],"range":[612,0],"nice":false,"zero":false},"axis":null},"y2":{"field":"y2"}}},
  {"data":{"name":"arrows"},"transform":[{"filter":"datum.ls=='dotted' && datum.dg=='e'"}],"mark":{"type":"rule","color":"#ED7D31","strokeWidth":2.2,"strokeDash":[2,2.5]},
   "encoding":{"x":{"field":"x1","type":"quantitative","scale":{"domain":[0,108],"range":[0,1080],"nice":false,"zero":false},"axis":null},"x2":{"field":"x2"},
    "y":{"field":"y1","type":"quantitative","scale":{"domain":[0,61.2],"range":[612,0],"nice":false,"zero":false},"axis":null},"y2":{"field":"y2"}}},
  {"data":{"name":"arrows"},"transform":[{"filter":"datum.ls=='dotted' && datum.dg=='d'"}],"mark":{"type":"rule","color":"#3C9AA0","strokeWidth":2.2,"strokeDash":[2,2.5]},
   "encoding":{"x":{"field":"x1","type":"quantitative","scale":{"domain":[0,108],"range":[0,1080],"nice":false,"zero":false},"axis":null},"x2":{"field":"x2"},
    "y":{"field":"y1","type":"quantitative","scale":{"domain":[0,61.2],"range":[612,0],"nice":false,"zero":false},"axis":null},"y2":{"field":"y2"}}},
  {"data":{"name":"arrows"},"transform":[{"filter":"datum.ls=='solid' && (datum.dg=='e' || datum.beam=='tpa')"}],"mark":{"type":"point","shape":"M-0.9,1L0,0L0.9,1","filled":false,"size":196,"color":"#ED7D31","strokeWidth":2.8,"opacity":1},
   "encoding":{"x":{"field":"x2","type":"quantitative","scale":{"domain":[0,108],"range":[0,1080],"nice":false,"zero":false},"axis":null},
    "y":{"field":"y2","type":"quantitative","scale":{"domain":[0,61.2],"range":[612,0],"nice":false,"zero":false},"axis":null},"angle":{"field":"dir","type":"quantitative","scale":null}}},
  {"data":{"name":"arrows"},"transform":[{"filter":"datum.ls=='solid' && datum.dg=='d' && datum.beam!='tpa'"}],"mark":{"type":"point","shape":"M-0.9,1L0,0L0.9,1","filled":false,"size":196,"color":"#3C9AA0","strokeWidth":2.8,"opacity":1},
   "encoding":{"x":{"field":"x2","type":"quantitative","scale":{"domain":[0,108],"range":[0,1080],"nice":false,"zero":false},"axis":null},
    "y":{"field":"y2","type":"quantitative","scale":{"domain":[0,61.2],"range":[612,0],"nice":false,"zero":false},"axis":null},"angle":{"field":"dir","type":"quantitative","scale":null}}},
  {"data":{"name":"arrows"},"transform":[{"filter":"datum.ls=='dotted' && datum.dg=='e'"}],"mark":{"type":"point","shape":"M-0.9,1L0,0L0.9,1","filled":false,"size":100,"color":"#ED7D31","strokeWidth":2,"opacity":1},
   "encoding":{"x":{"field":"x2","type":"quantitative","scale":{"domain":[0,108],"range":[0,1080],"nice":false,"zero":false},"axis":null},
    "y":{"field":"y2","type":"quantitative","scale":{"domain":[0,61.2],"range":[612,0],"nice":false,"zero":false},"axis":null},"angle":{"field":"dir","type":"quantitative","scale":null}}},
  {"data":{"name":"arrows"},"transform":[{"filter":"datum.ls=='dotted' && datum.dg=='d'"}],"mark":{"type":"point","shape":"M-0.9,1L0,0L0.9,1","filled":false,"size":100,"color":"#3C9AA0","strokeWidth":2,"opacity":1},
   "encoding":{"x":{"field":"x2","type":"quantitative","scale":{"domain":[0,108],"range":[0,1080],"nice":false,"zero":false},"axis":null},
    "y":{"field":"y2","type":"quantitative","scale":{"domain":[0,61.2],"range":[612,0],"nice":false,"zero":false},"axis":null},"angle":{"field":"dir","type":"quantitative","scale":null}}},
  {"data":{"values":[{"x":24.21,"y":21.37},{"x":29.08,"y":10.7},{"x":41.5,"y":8.5}]},"mark":{"type":"point","shape":"M-1,-1L1,1M-1,1L1,-1","filled":false,"size":300,"color":"#E32636","strokeWidth":1.8,"opacity":1},
   "encoding":{"x":{"field":"x","type":"quantitative","scale":{"domain":[0,108],"range":[0,1080],"nice":false,"zero":false},"axis":null},
    "y":{"field":"y","type":"quantitative","scale":{"domain":[0,61.2],"range":[612,0],"nice":false,"zero":false},"axis":null}}},
  {"data":{"values":[{"x":1.5,"y":60.12,"t":"(a)"},{"x":37.1,"y":60.05,"t":"(b)"},{"x":73.33,"y":60.12,"t":"(c)"},{"x":1.57,"y":29.87,"t":"(d)"},{"x":55.75,"y":29.7,"t":"(e)"}]},"mark":{"type":"text","fontSize":20},
   "encoding":{"x":{"field":"x","type":"quantitative","scale":{"domain":[0,108],"range":[0,1080],"nice":false,"zero":false},"axis":null},
    "y":{"field":"y","type":"quantitative","scale":{"domain":[0,61.2],"range":[612,0],"nice":false,"zero":false},"axis":null},"text":{"field":"t"}}},
  {"data":{"values":[{"x":4.0,"y":28.87,"t":"380 fs & 520 nm: TPA"},{"x":58.52,"y":29.53,"t":"6 ns & 532 nm: TPA+ESA"}]},"mark":{"type":"text","fontSize":15.5,"align":"left"},
   "encoding":{"x":{"field":"x","type":"quantitative","scale":{"domain":[0,108],"range":[0,1080],"nice":false,"zero":false},"axis":null},
    "y":{"field":"y","type":"quantitative","scale":{"domain":[0,61.2],"range":[612,0],"nice":false,"zero":false},"axis":null},"text":{"field":"t"}}},
  {"data":{"values":[{"x":12.07,"y":24.8,"t":"S₂"},{"x":10.0,"y":17.53,"t":"S₁"},{"x":10.0,"y":1.0,"t":"S₀"},{"x":47.2,"y":11.37,"t":"T₂"},{"x":47.2,"y":4.5,"t":"T₁"},{"x":65.65,"y":25.03,"t":"S₂"},{"x":63.55,"y":17.63,"t":"S₁"},{"x":63.55,"y":1.0,"t":"S₀"},{"x":101.4,"y":11.53,"t":"T₂"},{"x":101.4,"y":4.53,"t":"T₁"}]},"mark":{"type":"text","fontSize":17,"fontStyle":"italic"},
   "encoding":{"x":{"field":"x","type":"quantitative","scale":{"domain":[0,108],"range":[0,1080],"nice":false,"zero":false},"axis":null},
    "y":{"field":"y","type":"quantitative","scale":{"domain":[0,61.2],"range":[612,0],"nice":false,"zero":false},"axis":null},"text":{"field":"t"}}},
  {"data":{"values":[{"x":21.4,"y":22.3,"t":"hν₁"},{"x":14.65,"y":14.03,"t":"hν₁"},{"x":14.65,"y":4.7,"t":"hν₁"},{"x":38.9,"y":8.2,"t":"hν₁"},{"x":75.0,"y":22.47,"t":"hν₂"},{"x":68.3,"y":14.2,"t":"hν₂"},{"x":68.3,"y":4.87,"t":"hν₂"},{"x":92.56,"y":8.3,"t":"hν₂"}]},"mark":{"type":"text","fontSize":15,"fontStyle":"italic"},
   "encoding":{"x":{"field":"x","type":"quantitative","scale":{"domain":[0,108],"range":[0,1080],"nice":false,"zero":false},"axis":null},
    "y":{"field":"y","type":"quantitative","scale":{"domain":[0,61.2],"range":[612,0],"nice":false,"zero":false},"axis":null},"text":{"field":"t"}}},
  {"data":{"values":[{"x":30.45,"y":22.3,"t":"ESA transtions"},{"x":47.7,"y":8.2,"t":"ESA transtions"},{"x":13.1,"y":19.8,"t":"Vibrational relaxation (1~10 ps)"},{"x":22.0,"y":10.6,"t":"Virtual state"},{"x":6.05,"y":9.63,"t":"TPA  transtions"},{"x":84.05,"y":22.47,"t":"ESA transtions"},{"x":101.3,"y":8.3,"t":"ESA transtions"},{"x":66.7,"y":19.93,"t":"Vibrational relaxation (1~10 ps)"},{"x":75.7,"y":10.7,"t":"Virtual state"},{"x":59.6,"y":9.87,"t":"TPA  transtions"}]},"mark":{"type":"text","fontSize":14.5},
   "encoding":{"x":{"field":"x","type":"quantitative","scale":{"domain":[0,108],"range":[0,1080],"nice":false,"zero":false},"axis":null},
    "y":{"field":"y","type":"quantitative","scale":{"domain":[0,61.2],"range":[612,0],"nice":false,"zero":false},"axis":null},"text":{"field":"t"}}},
  {"data":{"values":[{"x":29.77,"y":12.3,"t":"Intersystem crossing"},{"x":83.77,"y":12.03,"t":"Intersystem crossing"}]},"mark":{"type":"text","fontSize":14.5,"angle":59},
   "encoding":{"x":{"field":"x","type":"quantitative","scale":{"domain":[0,108],"range":[0,1080],"nice":false,"zero":false},"axis":null},
    "y":{"field":"y","type":"quantitative","scale":{"domain":[0,61.2],"range":[612,0],"nice":false,"zero":false},"axis":null},"text":{"field":"t"}}},
  {"data":{"values":[{"x":1.2,"y":46.3,"t":"T"},{"x":37.17,"y":46.95,"t":"T"}]},"mark":{"type":"text","fontSize":21,"angle":270},
   "encoding":{"x":{"field":"x","type":"quantitative","scale":{"domain":[0,108],"range":[0,1080],"nice":false,"zero":false},"axis":null},
    "y":{"field":"y","type":"quantitative","scale":{"domain":[0,61.2],"range":[612,0],"nice":false,"zero":false},"axis":null},"text":{"field":"t"}}},
  {"data":{"values":[{"x":1.65,"y":48.75,"t":"min"},{"x":37.7,"y":49.07,"t":"min"}]},"mark":{"type":"text","fontSize":11,"angle":270},
   "encoding":{"x":{"field":"x","type":"quantitative","scale":{"domain":[0,108],"range":[0,1080],"nice":false,"zero":false},"axis":null},
    "y":{"field":"y","type":"quantitative","scale":{"domain":[0,61.2],"range":[612,0],"nice":false,"zero":false},"axis":null},"text":{"field":"t"}}}
 ]}
],
"resolve":{"scale":{"x":"independent","y":"independent"},"axis":{"x":"independent","y":"independent"}}
}
